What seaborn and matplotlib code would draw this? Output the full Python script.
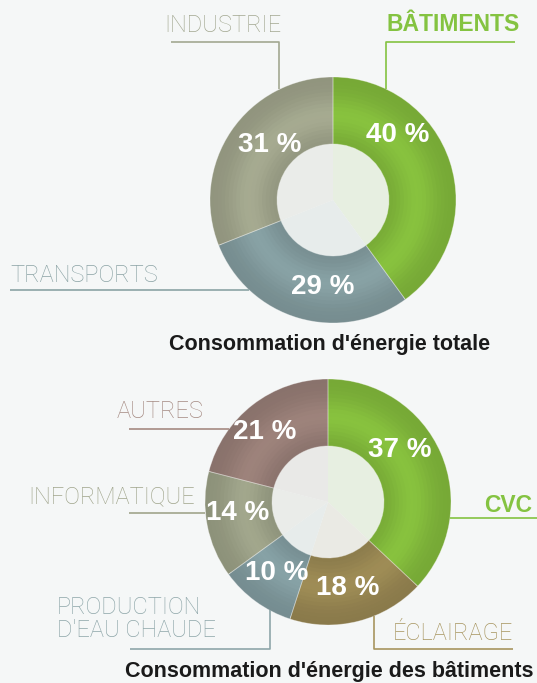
import numpy as np
import matplotlib.pyplot as plt
import matplotlib.colors as mcolors
import seaborn as sns

# données
total_labels = ['BÂTIMENTS', 'TRANSPORTS', 'INDUSTRIE']
total_values = [40, 29, 31]
total_colors = ['#7fb53a', '#7f979a', '#9b9f87']
total_title = "Consommation d'énergie totale"

bat_labels = ['CVC', 'ÉCLAIRAGE', "PRODUCTION\nD'EAU CHAUDE", 'INFORMATIQUE', 'AUTRES']
bat_values = [37, 18, 10, 14, 21]
bat_colors = ['#7fb53a', '#948350', '#7e979b', '#979c83', '#937a73']
bat_title = "Consommation d'énergie des bâtiments"

# mise en page (pixels)
W, H = 537, 683
R_OUT, R_IN = 123, 56
top_center = (333, 200)
bot_center = (328, 502)
# décalage des pourcentages par rapport au centre
top_pct_pos = [(65, -65), (-10, 87), (-63, -55)]
bot_pct_pos = [(72, -52), (20, 86), (-51, 71), (-90, 11), (-63, -70)]

sns.set_theme(style='white')
plt.rcParams['font.family'] = ['Liberation Sans', 'DejaVu Sans']
BG = '#f5f7f7'


def shade(c, m):
    rgb = np.array(mcolors.to_rgb(c)) * m
    return tuple(np.clip(rgb, 0, 1))


def blend(c, bg, a):
    c1 = np.array(mcolors.to_rgb(c))
    c2 = np.array(mcolors.to_rgb(bg))
    return tuple(c1 * a + c2 * (1 - a))


def donut(ax, values, colors, center):
    # anneau avec effet "tube"
    n = 18
    radii = np.linspace(R_OUT, R_IN, n + 1)[:-1]
    for r in radii:
        t = (r - R_IN) / (R_OUT - R_IN)
        m = 0.93 + 0.14 * np.exp(-((t - 0.45) / 0.3) ** 2)
        ax.pie(values, radius=r, center=center, startangle=-90, counterclock=True,
               colors=[shade(c, m) for c in colors], frame=True,
               wedgeprops=dict(width=r - R_IN, linewidth=0))
    # bordures claires entre segments
    ax.pie(values, radius=R_OUT, center=center, startangle=-90, counterclock=True,
           colors=['none'] * len(values), frame=True,
           wedgeprops=dict(width=R_OUT - R_IN, linewidth=0.6, edgecolor=(1, 1, 1, 0.35)))
    # trou central teinté
    ax.pie(values, radius=R_IN, center=center, startangle=-90, counterclock=True,
           colors=[blend(c, '#f3f5f4', 0.1) for c in colors], frame=True,
           wedgeprops=dict(linewidth=0))


def pct_labels(ax, values, center, offsets):
    for v, (dx, dy) in zip(values, offsets):
        ax.text(center[0] + dx, center[1] + dy, f'{v} %', color='white',
                fontsize=20, fontweight='bold', ha='center', va='center')


def leader(ax, pts, color):
    xs, ys = zip(*pts)
    ax.plot(xs, ys, color=color, lw=1.2, solid_capstyle='butt')


def circle_y(center, x, up=True):
    dy = np.sqrt(R_OUT ** 2 - (x - center[0]) ** 2)
    return center[1] - dy if up else center[1] + dy


def circle_x(center, y, left=True):
    dx = np.sqrt(R_OUT ** 2 - (y - center[1]) ** 2)
    return center[0] - dx if left else center[0] + dx


fig = plt.figure(figsize=(W / 100, H / 100), dpi=100)
fig.patch.set_facecolor(BG)
ax = fig.add_axes([0, 0, 1, 1])
ax.set_facecolor(BG)

donut(ax, total_values, total_colors, top_center)
donut(ax, bat_values, bat_colors, bot_center)
pct_labels(ax, total_values, top_center, top_pct_pos)
pct_labels(ax, bat_values, bot_center, bot_pct_pos)

light = dict(family=['Roboto', 'DejaVu Sans'], fontweight='light', fontsize=17)
bold = dict(fontweight='bold', fontsize=16.5)

txt_green = '#84c341'
txt_ind = '#a3a891'
txt_tra = '#8ba3a5'
txt_aut = '#a58a82'
txt_inf = '#a0a58c'
txt_pro = '#8ea6a9'
txt_ecl = '#a7955f'

# graphique du haut
ax.text(387, 31, total_labels[0], color=txt_green, ha='left', va='baseline', **bold)
leader(ax, [(515, 42), (386, 42), (386, circle_y(top_center, 386))], txt_green)
ax.text(164, 32, total_labels[2], color=txt_ind, ha='left', va='baseline', **light)
leader(ax, [(171, 42), (279, 42), (279, circle_y(top_center, 279))], txt_ind)
ax.text(10, 282, total_labels[1], color=txt_tra, ha='left', va='baseline', **light)
leader(ax, [(10, 290), (circle_x(top_center, 290), 290)], txt_tra)
ax.text(330, 350, total_title, color='#1a1a1a', ha='center', va='baseline',
        fontsize=15.5, fontweight='bold')

# graphique du bas
ax.text(532, 512, bat_labels[0], color=txt_green, ha='right', va='baseline', **bold)
leader(ax, [(circle_x(bot_center, 518, left=False), 518), (537, 518)], txt_green)
ax.text(117, 418, bat_labels[4], color=txt_aut, ha='left', va='baseline', **light)
leader(ax, [(129, 429), (circle_x(bot_center, 429), 429)], txt_aut)
ax.text(195, 503, bat_labels[3], color=txt_inf, ha='right', va='baseline', **light)
leader(ax, [(129, 513), (circle_x(bot_center, 513), 513)], txt_inf)
ax.text(57, 637, bat_labels[2], color=txt_pro, ha='left', va='baseline',
        linespacing=1.0, **light)
leader(ax, [(130, 649), (270, 649), (270, circle_y(bot_center, 270, up=False))], txt_pro)
ax.text(393, 640, bat_labels[1], color=txt_ecl, ha='left', va='baseline', **light)
leader(ax, [(513, 649), (374, 649), (374, circle_y(bot_center, 374, up=False))], txt_ecl)
ax.text(329, 677, bat_title, color='#1a1a1a', ha='center', va='baseline',
        fontsize=15.5, fontweight='bold')

ax.set_xlim(0, W)
ax.set_ylim(H, 0)
ax.set_aspect('equal')
ax.axis('off')

fig.savefig('out.png', dpi=100, facecolor=BG)
